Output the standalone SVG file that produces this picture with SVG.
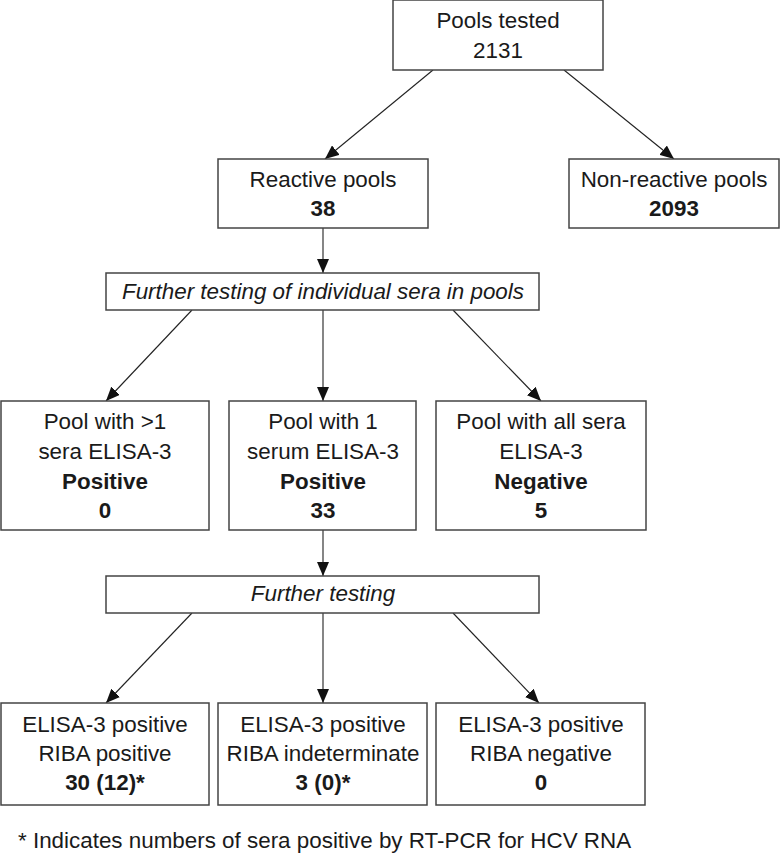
<svg xmlns="http://www.w3.org/2000/svg" width="780" height="853" viewBox="0 0 780 853">
<style>
.box{fill:#fff;stroke:#444;stroke-width:1.5}
.t{font-family:"Liberation Sans",Arial,sans-serif;font-size:22.4px;fill:#1a1a1a;text-anchor:middle}
.b{font-weight:bold}
.i{font-style:italic}
.c{stroke:#222;stroke-width:1.1;fill:none;marker-end:url(#ah)}
</style>
<defs>
<marker id="ah" markerUnits="userSpaceOnUse" markerWidth="14" markerHeight="12" viewBox="0 0 14 12" refX="14" refY="6" orient="auto">
<path d="M0,0 L14,6 L0,12 Z" fill="#111"/>
</marker>
</defs>
<rect width="780" height="853" fill="#fff"/>
<g id="connectors">
<line class="c" x1="433" y1="70" x2="325" y2="159"/>
<line class="c" x1="564" y1="70" x2="674" y2="159"/>
<line class="c" x1="323" y1="228" x2="323" y2="273"/>
<line class="c" x1="192" y1="310" x2="106" y2="401"/>
<line class="c" x1="323" y1="310" x2="323" y2="401"/>
<line class="c" x1="453" y1="310" x2="541" y2="401"/>
<line class="c" x1="323" y1="530" x2="323" y2="576"/>
<line class="c" x1="192" y1="613" x2="106" y2="703"/>
<line class="c" x1="323" y1="613" x2="323" y2="703"/>
<line class="c" x1="453" y1="613" x2="539" y2="703"/>
</g>
<g id="pools-tested">
<rect class="box" x="393" y="0" width="210" height="70"/>
<text class="t" x="498" y="28">Pools tested</text>
<text class="t" x="498" y="58">2131</text>
</g>
<g id="reactive">
<rect class="box" x="218" y="159" width="210" height="69"/>
<text class="t" x="323" y="187">Reactive pools</text>
<text class="t b" x="323" y="216">38</text>
</g>
<g id="non-reactive">
<rect class="box" x="569" y="159" width="210" height="69"/>
<text class="t" x="674" y="187">Non-reactive pools</text>
<text class="t b" x="674" y="216">2093</text>
</g>
<g id="further1">
<rect class="box" x="106" y="273" width="433" height="37"/>
<text class="t i" x="323" y="299">Further testing of individual sera in pools</text>
</g>
<g id="pool-gt1">
<rect class="box" x="1" y="401" width="208" height="129"/>
<text class="t" x="105" y="429">Pool with &gt;1</text>
<text class="t" x="105" y="459">sera ELISA-3</text>
<text class="t b" x="105" y="489">Positive</text>
<text class="t b" x="105" y="518">0</text>
</g>
<g id="pool-1">
<rect class="box" x="229" y="401" width="187" height="129"/>
<text class="t" x="323" y="429">Pool with 1</text>
<text class="t" x="323" y="459">serum ELISA-3</text>
<text class="t b" x="323" y="489">Positive</text>
<text class="t b" x="323" y="518">33</text>
</g>
<g id="pool-all">
<rect class="box" x="436" y="401" width="210" height="129"/>
<text class="t" x="541" y="429">Pool with all sera</text>
<text class="t" x="541" y="459">ELISA-3</text>
<text class="t b" x="541" y="489">Negative</text>
<text class="t b" x="541" y="518">5</text>
</g>
<g id="further2">
<rect class="box" x="106" y="576" width="433" height="37"/>
<text class="t i" x="323" y="601">Further testing</text>
</g>
<g id="riba-pos">
<rect class="box" x="1" y="703" width="208" height="102"/>
<text class="t" x="105" y="732">ELISA-3 positive</text>
<text class="t" x="105" y="761">RIBA positive</text>
<text class="t b" x="105" y="790">30 (12)*</text>
</g>
<g id="riba-ind">
<rect class="box" x="218" y="703" width="209" height="102"/>
<text class="t" x="323" y="732">ELISA-3 positive</text>
<text class="t" x="323" y="761">RIBA indeterminate</text>
<text class="t b" x="323" y="790">3 (0)*</text>
</g>
<g id="riba-neg">
<rect class="box" x="436" y="703" width="209" height="102"/>
<text class="t" x="541" y="732">ELISA-3 positive</text>
<text class="t" x="541" y="761">RIBA negative</text>
<text class="t b" x="541" y="790">0</text>
</g>
<text class="t" x="18" y="848" style="text-anchor:start">* Indicates numbers of sera positive by RT-PCR for HCV RNA</text>
</svg>
